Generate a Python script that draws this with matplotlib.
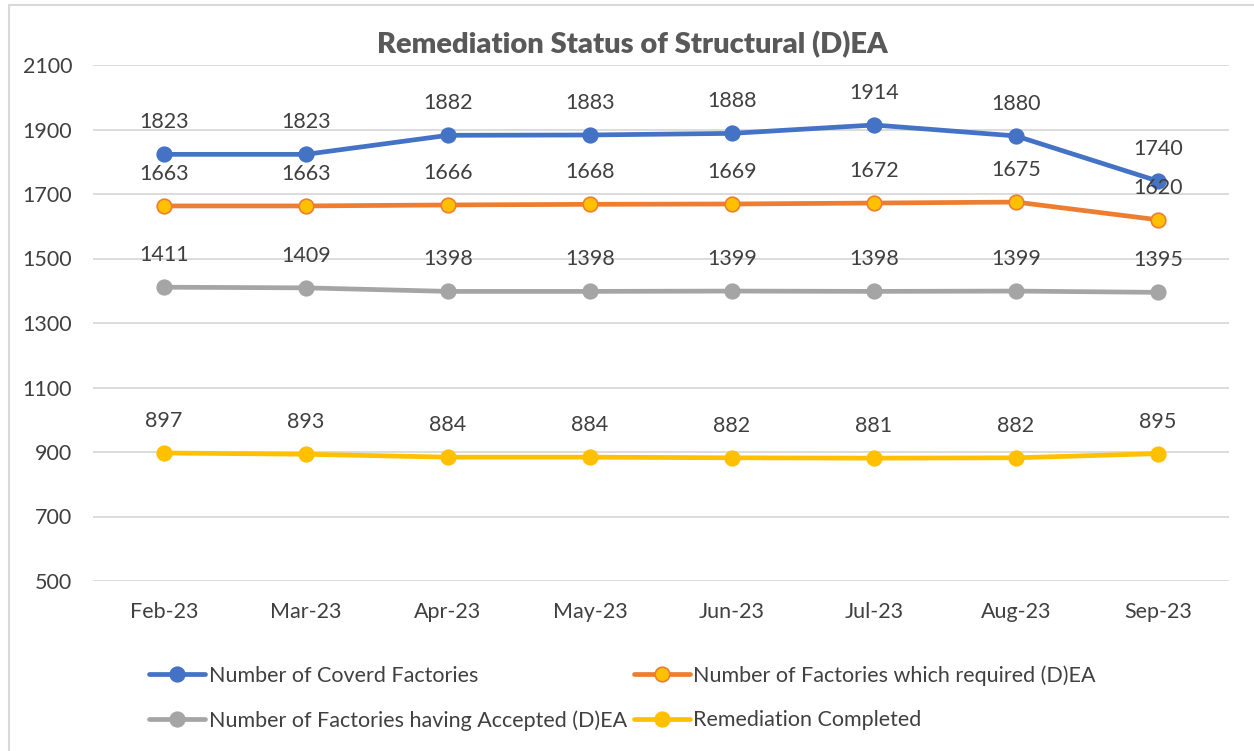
import matplotlib.pyplot as plt
from matplotlib.patches import Rectangle

months = ["Feb-23", "Mar-23", "Apr-23", "May-23", "Jun-23", "Jul-23", "Aug-23", "Sep-23"]
covered = [1823, 1823, 1882, 1883, 1888, 1914, 1880, 1740]
required = [1663, 1663, 1666, 1668, 1669, 1672, 1675, 1620]
accepted = [1411, 1409, 1398, 1398, 1399, 1398, 1399, 1395]
completed = [897, 893, 884, 884, 882, 881, 882, 895]

names = [
    "Number of Coverd Factories",
    "Number of Factories which required (D)EA",
    "Number of Factories having Accepted (D)EA",
    "Remediation Completed",
]

plt.rcParams["font.family"] = ["Lato", "DejaVu Sans"]
txt = "#404040"

fig = plt.figure(figsize=(12.54, 7.51), dpi=100)
ax = fig.add_axes([93 / 1254, 1 - 581 / 751, (1229 - 93) / 1254, (581 - 65) / 751])

# chart border
fig.patches.append(Rectangle((9 / 1254, -0.1), 1.2, 1 - 5 / 751 + 0.1, transform=fig.transFigure,
                             fill=False, edgecolor="#D9D9D9", linewidth=1.5))

x = range(len(months))
series = [
    (covered, "#4472C4", "#4472C4", "#4472C4"),
    (required, "#ED7D31", "#FFC000", "#ED7D31"),
    (accepted, "#A5A5A5", "#A5A5A5", "#A5A5A5"),
    (completed, "#FFC000", "#FFC000", "#FFC000"),
]
handles = []
for (vals, lc, mfc, mec), name in zip(series, names):
    (h,) = ax.plot(x, vals, color=lc, linewidth=3.4, marker="o", markersize=10.5,
                   markerfacecolor=mfc, markeredgecolor=mec, markeredgewidth=1.2,
                   label=name, solid_capstyle="round")
    handles.append(h)
    for xi, v in zip(x, vals):
        ax.annotate(str(v), (xi, v), xytext=(0, 23), textcoords="offset points",
                    ha="center", va="center", fontsize=15.5, color=txt)

ax.set_xlim(-0.5, len(months) - 0.5)
ax.set_ylim(500, 2100)
ax.set_yticks(range(500, 2101, 200))
ax.set_xticks(list(x))
ax.set_xticklabels(months)
ax.tick_params(axis="both", length=0, labelsize=15.5, labelcolor=txt)
ax.tick_params(axis="y", pad=15)
ax.tick_params(axis="x", pad=15)
ax.grid(axis="y", color="#D9D9D9", linewidth=1.3)
ax.set_axisbelow(True)
for s in ax.spines.values():
    s.set_visible(False)

fig.text(632 / 1254, 1 - 45 / 751, "Remediation Status of Structural (D)EA", ha="center", va="center",
         fontsize=21, fontweight="heavy", color="#595959")

order = [handles[0], handles[2], handles[1], handles[3]]
fig.legend(order, [h.get_label() for h in order], ncol=2, loc="center left",
           bbox_to_anchor=(130 / 1254, 1 - 698 / 751), frameon=False, fontsize=15.5,
           labelcolor=txt, handlelength=2.6, handletextpad=0.15, columnspacing=0.35,
           labelspacing=1.15)

fig.savefig("out.png", dpi=100)
